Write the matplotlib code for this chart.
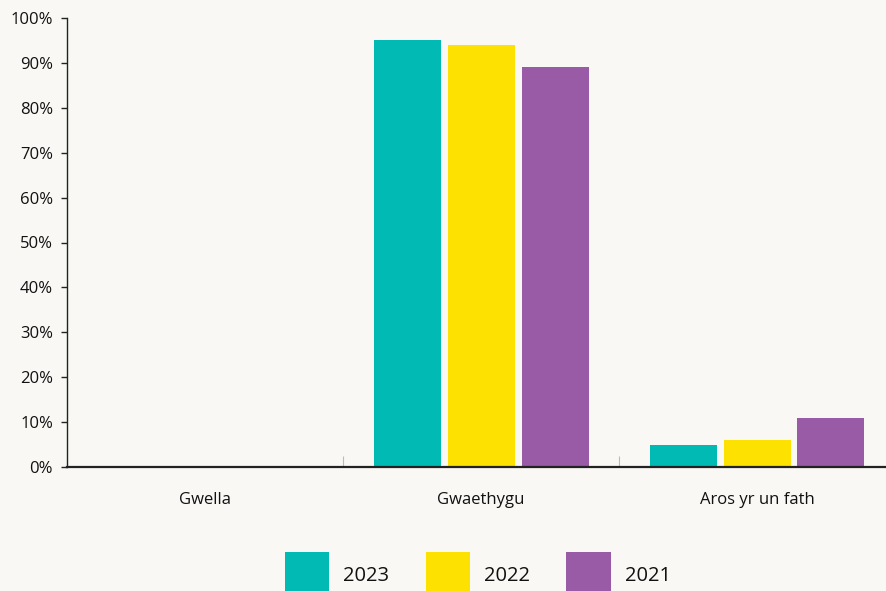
import matplotlib
matplotlib.use("Agg")
import matplotlib.pyplot as plt
import numpy as np

categories = ["Gwella", "Gwaethygu", "Aros yr un fath"]
series_names = ["2023", "2022", "2021"]
values_2023 = [0, 95, 5]
values_2022 = [0, 94, 6]
values_2021 = [0, 89, 11]
colors = ["#00bab3", "#fde100", "#9a5ba6"]
yticks = [0, 10, 20, 30, 40, 50, 60, 70, 80, 90, 100]
ytick_labels = [f"{v}%" for v in yticks]

bg = "#f9f8f5"
plt.rcParams['font.family'] = ['Open Sans', 'DejaVu Sans']

W, H = 886, 591
fig = plt.figure(figsize=(W / 100, H / 100), dpi=100, facecolor=bg)
ax = fig.add_axes([67 / W, (H - 467) / H, (895 - 67) / W, 449 / H])
ax.set_facecolor(bg)

x = np.arange(len(categories))
width = 67 / 276
offset = 74 / 276
for i, (name, vals) in enumerate(zip(series_names, [values_2023, values_2022, values_2021])):
    ax.bar(x + (i - 1) * offset, vals, width=width, color=colors[i], label=name, zorder=2)

ax.set_xlim(-0.5, 2.5)
ax.set_ylim(0, 100)
ax.set_yticks(yticks)
ax.set_yticklabels(ytick_labels, fontsize=12, color="#111111")
ax.tick_params(axis='y', length=4, width=1, color="#222222", pad=6)
ax.set_xticks(x)
ax.set_xticklabels(categories, fontsize=12, color="#111111")
ax.tick_params(axis='x', which='major', length=0, pad=18)
ax.set_xticks([0.5, 1.5], minor=True)
ax.tick_params(axis='x', which='minor', direction='in', length=8, width=0.8, color="#bbbbbb")

for s in ['top', 'right']:
    ax.spines[s].set_visible(False)
ax.spines['left'].set_color("#222222")
ax.spines['left'].set_linewidth(1.0)
ax.spines['bottom'].set_color("#222222")
ax.spines['bottom'].set_linewidth(1.6)
ax.spines['bottom'].set_zorder(3)

leg = fig.legend(loc='upper center', bbox_to_anchor=(478 / W, (H - 552) / H),
                 ncol=3, frameon=False, fontsize=14.5, handlelength=2.2, handleheight=3.1,
                 handletextpad=0.7, columnspacing=1.8, borderpad=0, borderaxespad=0)
for t in leg.get_texts():
    t.set_color("#111111")

fig.savefig("out.png", dpi=100, facecolor=bg)
